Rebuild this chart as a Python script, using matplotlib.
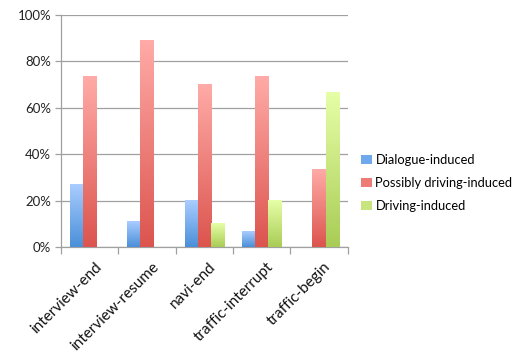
import numpy as np
import matplotlib
matplotlib.use("Agg")
import matplotlib.pyplot as plt
from matplotlib.colors import LinearSegmentedColormap
from matplotlib.patches import Patch

categories = ["interview-end", "interview-resume", "navi-end", "traffic-interrupt", "traffic-begin"]
series_names = ["Dialogue-induced", "Possibly driving-induced", "Driving-induced"]
dialogue = [26.7, 11.1, 20.0, 6.7, 0.0]
possibly = [73.3, 88.9, 70.0, 73.3, 33.3]
driving = [0.0, 0.0, 10.0, 20.0, 66.7]
yticks = [0, 20, 40, 60, 80, 100]

grads = [("#4a8fd8", "#aacdff"), ("#dc544e", "#ffaba7"), ("#a9cc55", "#e6ffa8")]
legend_cols = ["#6fa8ec", "#ee7b76", "#c8e47e"]

plt.rcParams['font.family'] = ['Lato', 'DejaVu Sans']
fig = plt.figure(figsize=(5.16, 3.54), dpi=100)
ax = fig.add_axes([0.118, 0.302, 0.556, 0.656])

x = np.arange(len(categories))
w = 0.23
grad = np.linspace(0, 1, 256).reshape(-1, 1)
for i, vals in enumerate([dialogue, possibly, driving]):
    cmap = LinearSegmentedColormap.from_list(f"c{i}", list(grads[i]))
    for xi, v in zip(x, vals):
        if v <= 0:
            continue
        x0 = xi + (i - 1) * w - w / 2
        ax.imshow(grad, extent=[x0, x0 + w, 0, v], origin='lower', cmap=cmap,
                  aspect='auto', zorder=3, interpolation='bilinear')

ax.set_xlim(-0.5, len(categories) - 0.5)
ax.set_ylim(0, 100)
ax.set_yticks(yticks)
ax.set_yticklabels([f"{t}%" for t in yticks], fontsize=9.5, color="#222222")
ax.yaxis.grid(True, color="#a0a0a0", linewidth=0.9, zorder=0)
ax.set_axisbelow(True)
ax.set_xticks(x + 0.08)
ax.set_xticklabels(categories, rotation=45, ha='right', rotation_mode='anchor',
                   fontsize=11, color="#111111")
ax.set_xticks(np.arange(-0.5, len(categories)), minor=True)
ax.tick_params(axis='x', which='major', length=0, pad=9)
ax.tick_params(axis='x', which='minor', length=5, color="#a0a0a0", width=0.9)
ax.tick_params(axis='y', length=4, color="#a0a0a0", width=0.9, pad=3)
for s in ['top', 'right']:
    ax.spines[s].set_visible(False)
for s in ['left', 'bottom']:
    ax.spines[s].set_color("#a0a0a0")
    ax.spines[s].set_linewidth(0.9)

handles = [Patch(facecolor=c, edgecolor='none') for c in legend_cols]
fig.legend(handles, series_names, loc='center left', bbox_to_anchor=(0.69, 0.483),
           frameon=False, fontsize=9.3, handlelength=0.8, handleheight=0.8,
           handletextpad=0.3, labelspacing=0.85, borderaxespad=0)

fig.savefig("out.png", dpi=100)
